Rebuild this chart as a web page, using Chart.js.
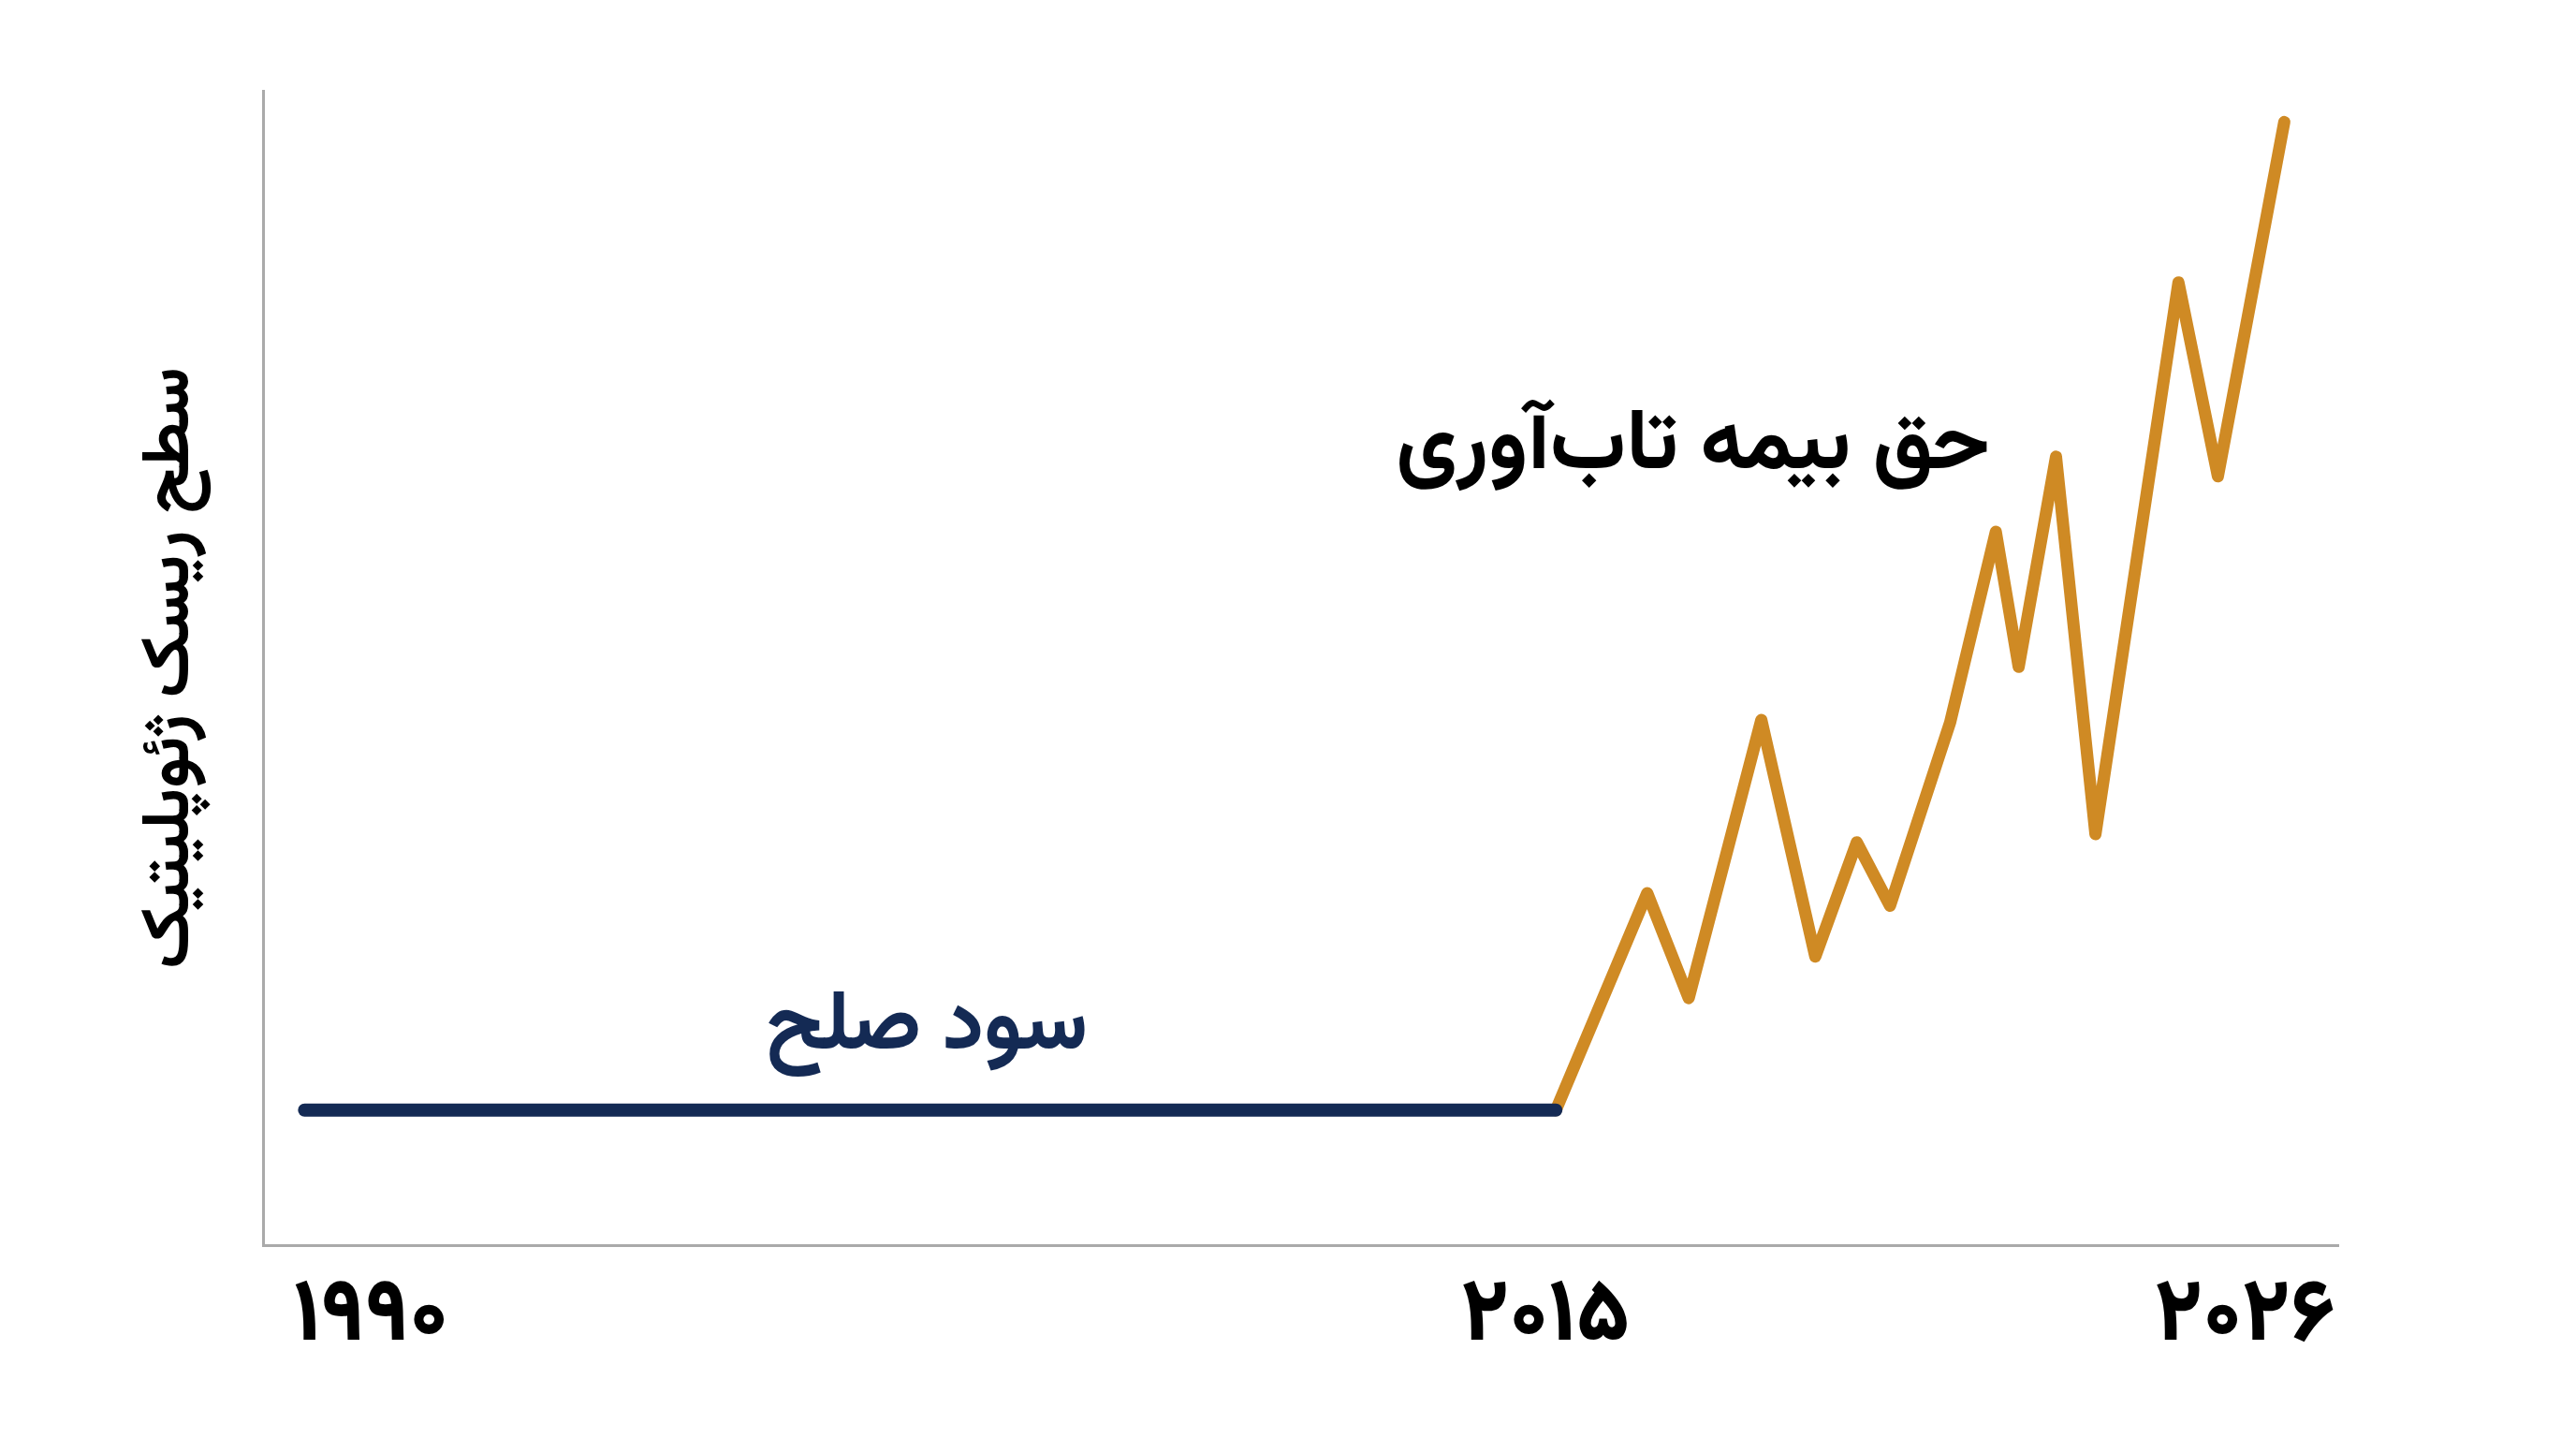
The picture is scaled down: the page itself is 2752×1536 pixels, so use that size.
<!DOCTYPE html>
<html lang="fa">
<head>
<meta charset="utf-8">
<script src="https://cdn.jsdelivr.net/npm/chart.js@4/dist/chart.umd.min.js"></script>
<style>
  html, body { margin: 0; padding: 0; background: #fff; }
  #wrap { width: 2752px; height: 1536px; position: relative; }
</style>
</head>
<body>
<div id="wrap"><canvas id="riskChart"></canvas></div>
<script>
// x is a plain position along the time axis (0..100), y is the risk level (0..100)
const peaceX = [2.0, 62.3];
const peaceY = [11.7, 11.7];

const premiumX = [62.3, 66.7, 68.7, 72.2, 74.8, 76.8, 78.4, 81.3, 83.5, 84.6, 86.4, 88.3, 92.3, 94.2, 97.4];
const premiumY = [11.7, 30.5, 21.4, 45.5, 25.0, 34.9, 29.4, 45.3, 61.8, 50.1, 68.3, 35.6, 83.4, 66.6, 97.3];

const tickValues = [5.2, 61.8, 95.5];
const tickLabels = ["۱۹۹۰", "۲۰۱۵", "۲۰۲۶"];

const yTitle = "سطح ریسک ژئوپلیتیک";
const peaceLabel = "سود صلح";
const premiumLabel = "حق بیمه تاب‌آوری";
const peaceLabelAt = [32.0, 18.2];
const premiumLabelAt = [68.9, 68.5];

const NAVY = "#142a54";
const GOLD = "#cf8a24";
const FONT = "Vazirmatn, 'Noto Sans Arabic', 'DejaVu Sans', sans-serif";

const toPoints = (xs, ys) => xs.map((x, i) => ({ x, y: ys[i] }));

const labelsPlugin = {
  id: "seriesLabels",
  afterDatasetsDraw(chart) {
    const { ctx, scales: { x, y } } = chart;
    ctx.save();
    ctx.textAlign = "center";
    ctx.textBaseline = "middle";
    ctx.font = "bold 91px " + FONT;
    ctx.fillStyle = "#000";
    ctx.fillText(premiumLabel, x.getPixelForValue(premiumLabelAt[0]), y.getPixelForValue(premiumLabelAt[1]));
    ctx.font = "bold 89px " + FONT;
    ctx.fillStyle = NAVY;
    ctx.fillText(peaceLabel, x.getPixelForValue(peaceLabelAt[0]), y.getPixelForValue(peaceLabelAt[1]));
    ctx.restore();
  }
};

new Chart(document.getElementById("riskChart"), {
  type: "line",
  data: {
    datasets: [
      {
        data: toPoints(peaceX, peaceY),
        borderColor: NAVY,
        borderWidth: 14,
        borderCapStyle: "round",
        pointRadius: 0
      },
      {
        data: toPoints(premiumX, premiumY),
        borderColor: GOLD,
        borderWidth: 13,
        borderCapStyle: "round",
        borderJoinStyle: "round",
        pointRadius: 0
      }
    ]
  },
  options: {
    responsive: true,
    maintainAspectRatio: false,
    animation: false,
    devicePixelRatio: 1,
    layout: { padding: { top: 97, right: 254, left: 0, bottom: 0 } },
    plugins: { legend: { display: false }, tooltip: { enabled: false } },
    scales: {
      x: {
        type: "linear",
        min: 0,
        max: 100,
        grid: { display: false, drawTicks: false },
        border: { color: "#aaaaaa", width: 3 },
        afterBuildTicks: s => { s.ticks = tickValues.map(v => ({ value: v })); },
        afterFit: s => { s.height = 1536 - 1330; },
        ticks: {
          padding: 30,
          color: "#000",
          font: { family: FONT, size: 94, weight: 800 },
          maxRotation: 0,
          autoSkip: false,
          callback: (v, i) => tickLabels[i]
        }
      },
      y: {
        min: 0,
        max: 100,
        grid: { display: false, drawTicks: false },
        border: { color: "#aaaaaa", width: 3 },
        afterFit: s => { s.width = 281; },
        ticks: { display: false },
        title: {
          display: true,
          text: yTitle,
          color: "#000",
          font: { family: FONT, size: 72, weight: "bold" },
          padding: { top: 147, bottom: 0 }
        }
      }
    }
  },
  plugins: [labelsPlugin]
});
</script>
</body>
</html>
